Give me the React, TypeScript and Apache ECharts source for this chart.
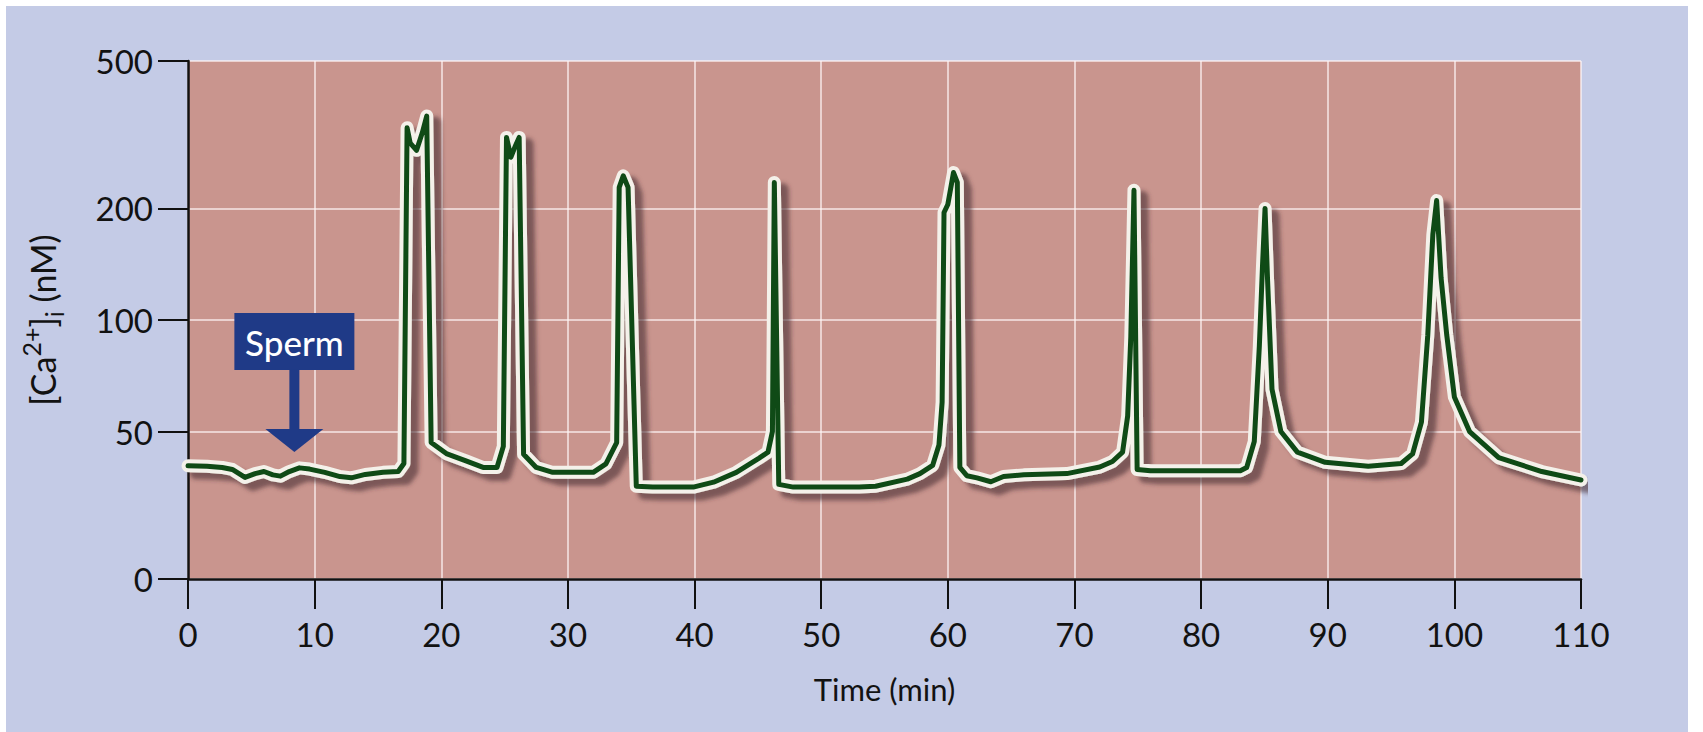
import { useEffect, useRef } from 'react';
import * as echarts from 'echarts';

// Time (min) and [Ca2+]i (nM)
const TIME_MIN = [
  0, 1.5, 2.7, 3.5, 4.5, 5.3, 6.0, 6.7, 7.3, 8.0, 8.8, 9.6, 10.8, 12.0, 12.9, 14.0, 15.4, 16.6, 17.05,
  17.3, 17.55, 18.05, 18.5, 18.85, 19.2, 20.4, 22.0, 23.3, 24.4, 24.9,
  25.15, 25.5, 25.85, 26.15, 26.5, 27.5, 28.8, 32.0, 33.0, 33.85,
  34.05, 34.37, 34.75, 35.4, 36.7, 39.9, 41.5, 43.3, 45.1, 45.8, 46.15,
  46.3, 46.65, 47.8, 53.0, 54.3, 56.8, 57.8, 58.8, 59.3, 59.55,
  59.7, 60.0, 60.45, 60.75, 60.95, 61.5, 62.3, 63.4, 64.4, 66.0, 69.4, 72.0, 73.0, 73.8, 74.2, 74.45,
  74.7, 74.95, 76.0, 80.0, 83.1, 83.6, 84.2, 84.6, 84.85,
  85.05, 85.25, 85.6, 86.3, 87.6, 89.8, 93.2, 95.8, 96.7, 97.4, 97.9, 98.3,
  98.6, 98.95, 99.4, 100.0, 101.2, 103.5, 106.9, 110,
];
const CA_NM = [
  40.4, 40.3, 40, 39.5, 37.6, 38.5, 39, 38.2, 37.9, 39, 39.9, 39.6, 38.8, 37.8, 37.5, 38.3, 38.8, 39, 41,
  330, 300, 287, 320, 355, 46.7, 43.6, 41.6, 40, 40, 45.6,
  311, 275, 295, 311, 43.4, 40, 38.8, 38.8, 40.9, 46.7,
  228, 245, 228, 35.6, 35.4, 35.4, 36.5, 38.8, 42.4, 44, 50,
  235, 36, 35.4, 35.4, 35.6, 37.2, 38.5, 40.5, 46, 60,
  195, 205, 250, 235, 40, 38, 37.5, 36.6, 37.8, 38.2, 38.5, 40.1, 41.5, 44, 55, 90,
  224, 39.5, 39.2, 39.2, 39.2, 40, 47, 85, 140,
  200, 128, 65, 50, 44, 41.3, 40.3, 41, 43.5, 53, 91, 170,
  210, 130, 91, 62, 50, 42.5, 39, 37,
];

const X_MIN = 0;
const X_MAX = 110;
const X_INTERVAL = 10;
// the axis floor (labelled "0") sits where 20 nM would be on the log scale
const Y_TICK_VALUES = [20, 50, 100, 200, 500];
const Y_TICK_LABELS = ['0', '50', '100', '200', '500'];
const SPERM_LABEL = 'Sperm';
const SPERM_TIME = 8.4;
const SPERM_TIP_CA = 44;

const FONT = 'Lato, "Open Sans", sans-serif';
const INK = '#121212';

export default function App() {
  const ref = useRef<HTMLDivElement>(null);

  useEffect(() => {
    const chart = echarts.init(ref.current!, null, { renderer: 'svg' });
    const data = TIME_MIN.map((t, i) => [t, CA_NM[i]]);
    const axisLine = { show: true, onZero: false, lineStyle: { color: '#111', width: 2.5 } };
    const tickLine = { color: '#111', width: 2 };
    const gridLine = { color: 'rgba(255,246,246,0.85)', width: 1.5 };

    chart.setOption({
      animation: false,
      backgroundColor: 'transparent',
      textStyle: { fontFamily: FONT, color: INK },
      grid: {
        left: 188, right: 122, top: 61, bottom: 153,
        show: true, backgroundColor: '#c9958e', borderWidth: 0,
        containLabel: false, outerBoundsMode: 'none',
      },
      xAxis: {
        type: 'value', min: X_MIN, max: X_MAX, interval: X_INTERVAL,
        name: 'Time (min)', nameLocation: 'middle', nameGap: 94,
        nameTextStyle: { fontSize: 31, color: INK, fontFamily: FONT },
        axisLine,
        axisTick: { show: true, inside: false, length: 30, lineStyle: tickLine },
        axisLabel: { margin: 38, fontSize: 33, color: INK, fontFamily: FONT },
        splitLine: { show: true, lineStyle: gridLine },
      },
      yAxis: {
        type: 'log', logBase: 10, min: Y_TICK_VALUES[0], max: Y_TICK_VALUES[Y_TICK_VALUES.length - 1],
        name: '{n|[Ca}{sup|2+}{n|]}{sub|i}{n| (nM)}',
        nameLocation: 'middle', nameGap: 122, nameRotate: 90,
        nameTextStyle: {
          fontSize: 34, color: INK, fontFamily: FONT,
          rich: {
            n: { fontSize: 34, lineHeight: 48, color: INK, fontFamily: FONT },
            sup: { fontSize: 25, lineHeight: 25, verticalAlign: 'top', color: INK, fontFamily: FONT },
            sub: { fontSize: 25, lineHeight: 25, verticalAlign: 'bottom', color: INK, fontFamily: FONT },
          },
        },
        axisLine,
        axisTick: { show: true, inside: false, length: 30, lineStyle: tickLine, customValues: Y_TICK_VALUES },
        axisLabel: {
          customValues: Y_TICK_VALUES, margin: 35, fontSize: 33, color: INK, fontFamily: FONT,
          formatter: (v: number) => {
            const i = Y_TICK_VALUES.findIndex((t) => Math.abs(t - v) < 0.01 * t);
            return i >= 0 ? Y_TICK_LABELS[i] : '';
          },
        },
        splitLine: { show: true, lineStyle: gridLine },
        minorTick: { show: false },
        minorSplitLine: { show: false },
      },
      series: [
        {
          type: 'line', data, symbol: 'none', showSymbol: false, silent: true, z: 3,
          lineStyle: {
            color: '#f4f1ea', width: 13, cap: 'round', join: 'round',
            shadowColor: 'rgba(70,45,50,0.6)', shadowBlur: 4, shadowOffsetX: 8, shadowOffsetY: 7,
          },
        },
        {
          type: 'line', data, symbol: 'none', showSymbol: false, silent: true, z: 4,
          lineStyle: { color: '#0f4a16', width: 5, cap: 'round', join: 'round' },
        },
      ],
    });

    const tip = chart.convertToPixel({ gridIndex: 0 }, [SPERM_TIME, SPERM_TIP_CA]) as number[];
    const navy = '#1f3a87';
    chart.setOption({
      graphic: [
        {
          type: 'group', x: tip[0], y: tip[1], z: 10,
          children: [
            { type: 'rect', shape: { x: -60, y: -139, width: 120, height: 57 }, style: { fill: navy } },
            {
              type: 'text', x: 0, y: -110,
              style: {
                text: SPERM_LABEL, fill: '#ffffff', fontSize: 35, fontFamily: FONT, fontWeight: 500,
                align: 'center', verticalAlign: 'middle', textAlign: 'center', textVerticalAlign: 'middle',
              },
            },
            { type: 'rect', shape: { x: -5, y: -83, width: 10, height: 62 }, style: { fill: navy } },
            { type: 'polygon', shape: { points: [[-29, -23], [29, -23], [0, 0]] }, style: { fill: navy } },
          ],
        },
      ],
    });

    return () => chart.dispose();
  }, []);

  return (
    <div style={{ position: 'fixed', left: 0, top: 0, width: 1703, height: 732, background: '#ffffff' }}>
      <div style={{ position: 'absolute', left: 6, top: 6, width: 1682, height: 726, background: '#c4cbe6' }} />
      <div ref={ref} style={{ position: 'absolute', left: 0, top: 0, width: 1703, height: 732 }} />
    </div>
  );
}
